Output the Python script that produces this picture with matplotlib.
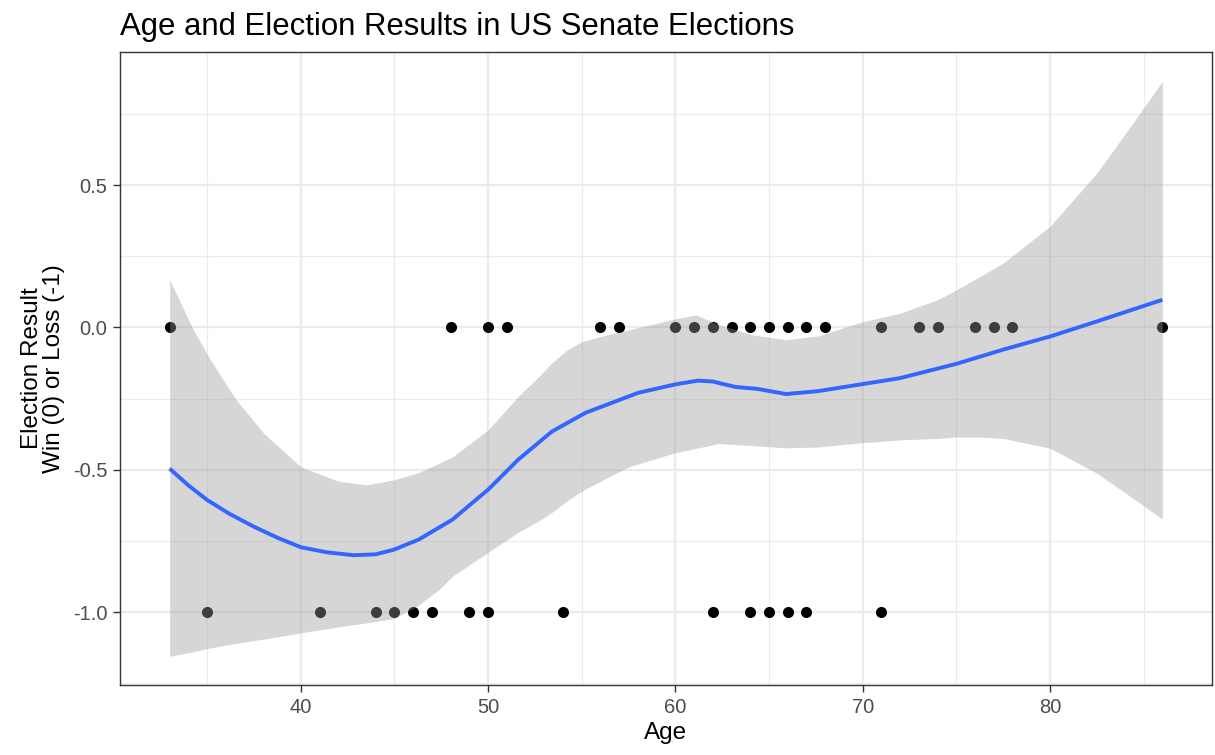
import numpy as np
import matplotlib.pyplot as plt
from matplotlib.ticker import MultipleLocator, FormatStrFormatter

plt.rcParams['font.family'] = ['Liberation Sans', 'DejaVu Sans']

# ---- data ----
win_age = [33, 48, 50, 51, 56, 57, 60, 61, 62, 63, 64, 65, 66, 67, 68,
           71, 73, 74, 76, 77, 78, 86]
loss_age = [35, 41, 44, 45, 46, 47, 49, 50, 54, 62, 64, 65, 66, 67, 71]

# loess fit (blue line)
fit_x = [33, 34, 35, 36.2, 37.5, 38.8, 40, 41.4, 42.8, 44, 45, 46.3, 47.2,
         48.1, 49, 50, 51.6, 53.4, 55.2, 57, 58, 60, 61.2, 62, 63.2, 64.4,
         65.9, 67.6, 70, 72, 75, 77.5, 80, 82.5, 86]
fit_y = [-0.496, -0.555, -0.606, -0.655, -0.70, -0.74, -0.772, -0.79, -0.80,
         -0.797, -0.78, -0.745, -0.71, -0.675, -0.625, -0.57, -0.465, -0.366,
         -0.30, -0.255, -0.23, -0.20, -0.187, -0.19, -0.209, -0.216, -0.234,
         -0.224, -0.199, -0.178, -0.128, -0.078, -0.032, 0.021, 0.097]

# confidence band
band_x = [33, 34.2, 35, 36.5, 38, 40, 42, 43.5, 45, 46.3, 47.4, 48.1, 50,
          51.6, 52.7, 53.4, 54.2, 55, 56.3, 57.5, 60, 61.1, 62.3, 64.1, 65.9,
          67.6, 70, 72, 74, 75, 76.3, 77.5, 80, 82.5, 84.3, 86]
band_hi = [0.167, 0.0, -0.095, -0.25, -0.37, -0.49, -0.54, -0.553, -0.535,
           -0.51, -0.477, -0.455, -0.36, -0.243, -0.173, -0.125, -0.08, -0.05,
           -0.027, -0.009, 0.03, 0.044, 0.01, -0.026, -0.043, -0.03, 0.02,
           0.05, 0.097, 0.132, 0.18, 0.226, 0.355, 0.542, 0.706, 0.864]
band_lo = [-1.155, -1.14, -1.128, -1.11, -1.095, -1.073, -1.052, -1.038,
           -1.022, -0.975, -0.92, -0.874, -0.79, -0.72, -0.68, -0.65, -0.61,
           -0.575, -0.53, -0.49, -0.44, -0.425, -0.408, -0.415, -0.423, -0.42,
           -0.405, -0.395, -0.39, -0.385, -0.385, -0.39, -0.424, -0.512,
           -0.594, -0.673]

fig = plt.figure(figsize=(12.15, 7.55), dpi=100)
ax = fig.add_axes([0.0988, 0.0927, 0.8987, 0.8383])

ax.scatter(win_age, [0] * len(win_age), s=64, color="black", zorder=3,
           linewidths=0)
ax.scatter(loss_age, [-1] * len(loss_age), s=64, color="black", zorder=3,
           linewidths=0)
ax.fill_between(band_x, band_lo, band_hi, color="#999999", alpha=0.4,
                linewidth=0, zorder=4)
ax.plot(fit_x, fit_y, color="#3366FF", linewidth=2.8, zorder=5,
        solid_capstyle="butt", solid_joinstyle="round")

ax.set_xlim(30.35, 88.65)
ax.set_ylim(-1.256, 0.967)
ax.xaxis.set_major_locator(MultipleLocator(10))
ax.xaxis.set_minor_locator(MultipleLocator(5))
ax.yaxis.set_major_locator(MultipleLocator(0.5))
ax.yaxis.set_minor_locator(MultipleLocator(0.25))
ax.yaxis.set_major_formatter(FormatStrFormatter("%.1f"))

ax.grid(True, which="major", color="#EBEBEB", linewidth=1.6, zorder=0)
ax.grid(True, which="minor", color="#EBEBEB", linewidth=0.8, zorder=0)
ax.set_axisbelow(True)

for sp in ax.spines.values():
    sp.set_color("#333333")
    sp.set_linewidth(1.0)

ax.tick_params(which="major", length=5, width=1.0, color="#333333",
               labelcolor="#4D4D4D", labelsize=14.5, pad=4)
ax.tick_params(which="minor", length=0)

ax.set_xlabel("Age", fontsize=17.5, color="black", labelpad=4)
ax.set_ylabel("Election Result\nWin (0) or Loss (-1)", fontsize=17.5,
              color="black", labelpad=6, linespacing=1.0)
ax.set_title("Age and Election Results in US Senate Elections", fontsize=22.4,
             loc="left", pad=12, color="black")

plt.savefig("out.png", dpi=100)
